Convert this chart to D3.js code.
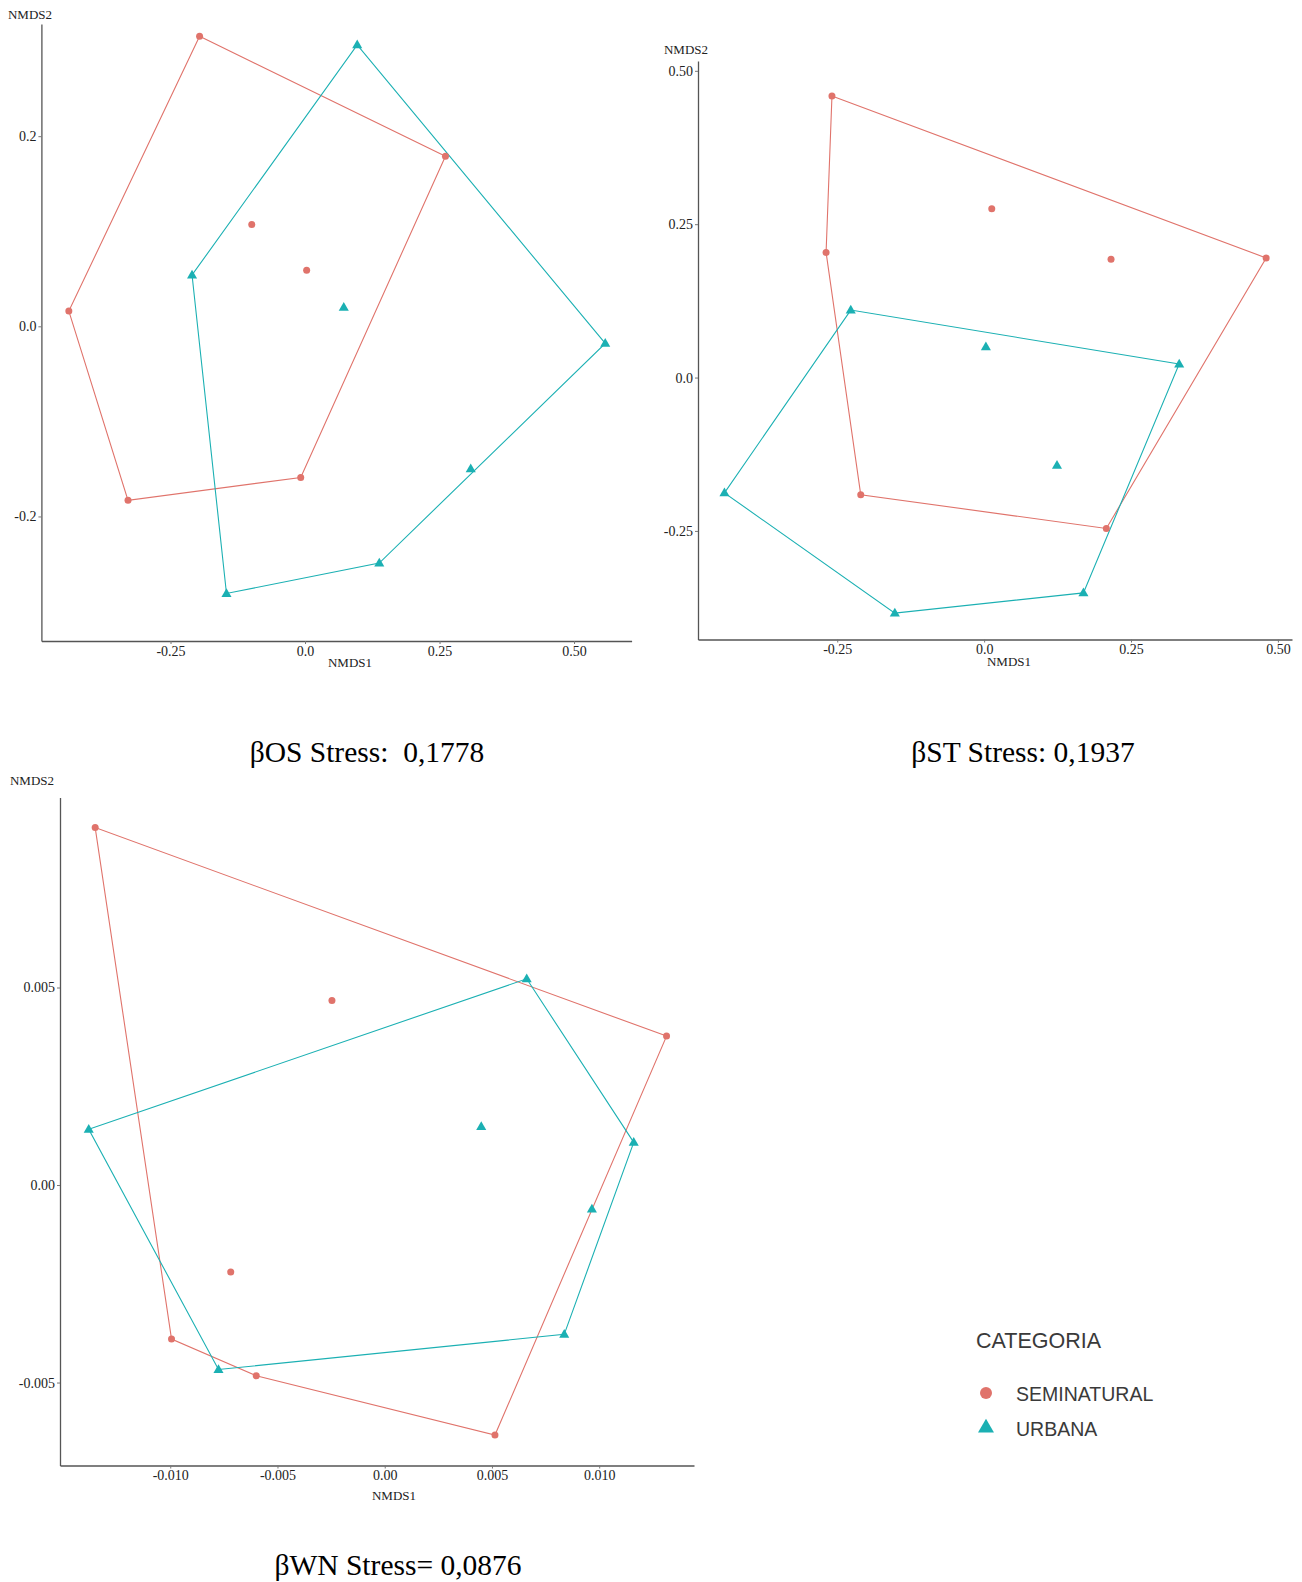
<!DOCTYPE html>
<html><head><meta charset="utf-8">
<script src="https://cdn.jsdelivr.net/npm/d3@7"></script>
<style>
html,body{margin:0;padding:0;background:#fff;}
svg{display:block;}
.tick-lab{font-family:"Liberation Serif","Times New Roman",serif;font-size:14px;fill:#222;}
.ax-title{font-family:"Liberation Serif","Times New Roman",serif;font-size:13px;fill:#222;}
.caption{font-family:"Liberation Serif","Times New Roman",serif;font-size:29.5px;fill:#000;white-space:pre;}
.leg{font-family:"Liberation Sans",Arial,sans-serif;fill:#3a3a3a;}
</style></head>
<body>
<script>
// ---------- DATA ----------
const categories = ["SEMINATURAL", "URBANA"];

// βOS
const osSemiX = [-0.196, 0.261, -0.008, -0.329, -0.439, -0.099, 0.003];
const osSemiY = [0.305, 0.179, -0.159, -0.183, 0.016, 0.107, 0.059];
const osUrbX  = [0.097, 0.558, 0.308, 0.138, -0.146, -0.210, 0.072];
const osUrbY  = [0.296, -0.018, -0.150, -0.249, -0.281, 0.054, 0.020];
const osXTicks = [-0.25, 0, 0.25, 0.5];
const osXLabels = ["-0.25", "0.0", "0.25", "0.50"];
const osYTicks = [-0.2, 0, 0.2];
const osYLabels = ["-0.2", "0.0", "0.2"];

// βST
const stSemiX = [-0.259, 0.480, 0.208, -0.210, -0.269, 0.013, 0.216];
const stSemiY = [0.459, 0.195, -0.246, -0.191, 0.204, 0.275, 0.193];
const stUrbX  = [-0.227, 0.332, 0.169, -0.152, -0.442, 0.003, 0.124];
const stUrbY  = [0.110, 0.022, -0.351, -0.384, -0.188, 0.050, -0.143];
const stXTicks = [-0.25, 0, 0.25, 0.5];
const stXLabels = ["-0.25", "0.0", "0.25", "0.50"];
const stYTicks = [-0.25, 0, 0.25, 0.5];
const stYLabels = ["-0.25", "0.0", "0.25", "0.50"];

// βWN
const wnSemiX = [-0.01350, 0.01314, 0.00514, -0.00599, -0.00994, -0.00246, -0.00718];
const wnSemiY = [0.00905, 0.00377, -0.00633, -0.00483, -0.00390, 0.00467, -0.00220];
const wnUrbX  = [0.00662, 0.01161, 0.00837, -0.00775, -0.01380, 0.00450, 0.00966];
const wnUrbY  = [0.00522, 0.00108, -0.00378, -0.00467, 0.00141, 0.00148, -0.00061];
const wnXTicks = [-0.010, -0.005, 0, 0.005, 0.010];
const wnXLabels = ["-0.010", "-0.005", "0.00", "0.005", "0.010"];
const wnYTicks = [-0.005, 0, 0.005];
const wnYLabels = ["-0.005", "0.00", "0.005"];

const captions = ["\u03B2OS Stress:  0,1778", "\u03B2ST Stress: 0,1937", "\u03B2WN Stress= 0,0876"];

// ---------- STYLE / LAYOUT ----------
const colSemi = "#e0736b";
const colUrb = "#1bb0b3";

const W = 1302, H = 1582;
const svg = d3.select("body").append("svg").attr("width", W).attr("height", H);
svg.append("rect").attr("width", W).attr("height", H).attr("fill", "#fff");

const panels = [
  {semiX: osSemiX, semiY: osSemiY, urbX: osUrbX, urbY: osUrbY,
   xd: [-0.49, 0.607], xr: [41.4, 631.6], yd: [-0.331, 0.318], yr: [641, 24],
   xt: osXTicks, xl: osXLabels, yt: osYTicks, yl: osYLabels,
   y2lab: [30, 19], x1lab: [350, 667], cap: [367, 762], capText: captions[0]},
  {semiX: stSemiX, semiY: stSemiY, urbX: stUrbX, urbY: stUrbY,
   xd: [-0.487, 0.524], xr: [698, 1292], yd: [-0.427, 0.516], yr: [639.5, 61],
   xt: stXTicks, xl: stXLabels, yt: stYTicks, yl: stYLabels,
   y2lab: [686, 54], x1lab: [1009, 666], cap: [1023, 762], capText: captions[1]},
  {semiX: wnSemiX, semiY: wnSemiY, urbX: wnUrbX, urbY: wnUrbY,
   xd: [-0.01514, 0.01442], xr: [60, 694], yd: [-0.0071, 0.00981], yr: [1465.5, 797.5],
   xt: wnXTicks, xl: wnXLabels, yt: wnYTicks, yl: wnYLabels,
   y2lab: [32, 785], x1lab: [394, 1500], cap: [398, 1575], capText: captions[2]}
];

const tri = d3.symbol().type(d3.symbolTriangle).size(44);

panels.forEach(p => {
  const x = d3.scaleLinear().domain(p.xd).range(p.xr);
  const y = d3.scaleLinear().domain(p.yd).range(p.yr);
  const g = svg.append("g");

  const semi = p.semiX.map((v, i) => [x(v), y(p.semiY[i])]);
  const urb = p.urbX.map((v, i) => [x(v), y(p.urbY[i])]);

  // hulls
  [[semi, colSemi], [urb, colUrb]].forEach(([pts, c]) => {
    const hull = d3.polygonHull(pts);
    g.append("path").attr("d", "M" + hull.join("L") + "Z")
      .attr("fill", "none").attr("stroke", c).attr("stroke-width", 1.1);
  });

  // points
  g.selectAll(".sp").data(semi).join("circle")
    .attr("cx", d => d[0]).attr("cy", d => d[1]).attr("r", 3.5).attr("fill", colSemi);
  g.selectAll(".up").data(urb).join("path")
    .attr("d", tri).attr("transform", d => `translate(${d[0]},${d[1] + 0.5})`).attr("fill", colUrb);

  // axes
  const xAxis = d3.axisBottom(x).tickValues(p.xt).tickFormat((d, i) => p.xl[i]).tickSize(3).tickSizeOuter(0);
  const yAxis = d3.axisLeft(y).tickValues(p.yt).tickFormat((d, i) => p.yl[i]).tickSize(3).tickSizeOuter(0);
  const gx = g.append("g").attr("transform", `translate(0,${p.yr[0]})`).call(xAxis);
  const gy = g.append("g").attr("transform", `translate(${p.xr[0]},0)`).call(yAxis);
  [gx, gy].forEach(a => {
    a.select(".domain").attr("stroke", "#555").attr("stroke-width", 1.3);
    a.selectAll(".tick line").attr("stroke", "#777");
    a.selectAll(".tick text").attr("class", "tick-lab").attr("font-family", null).attr("font-size", null).attr("fill", null);
  });
  gx.selectAll(".tick text").attr("dy", "0.75em").attr("y", 4);
  gy.selectAll(".tick text").attr("x", -5);

  g.append("text").attr("class", "ax-title").attr("x", p.y2lab[0]).attr("y", p.y2lab[1])
    .attr("text-anchor", "middle").text("NMDS2");
  g.append("text").attr("class", "ax-title").attr("x", p.x1lab[0]).attr("y", p.x1lab[1])
    .attr("text-anchor", "middle").text("NMDS1");
  g.append("text").attr("class", "caption").attr("x", p.cap[0]).attr("y", p.cap[1])
    .attr("text-anchor", "middle").text(p.capText);
});

// legend
const lg = svg.append("g");
lg.append("text").attr("class", "leg").attr("x", 976).attr("y", 1348).attr("font-size", 21.5).text("CATEGORIA");
lg.append("circle").attr("cx", 986).attr("cy", 1393).attr("r", 6).attr("fill", colSemi);
lg.append("path").attr("d", d3.symbol().type(d3.symbolTriangle).size(110))
  .attr("transform", "translate(986,1428)").attr("fill", colUrb);
lg.selectAll(".li").data(categories).join("text").attr("class", "leg")
  .attr("x", 1016).attr("y", (d, i) => 1401 + i * 35).attr("font-size", 19.5).text(d => d);
</script>
</body></html>
